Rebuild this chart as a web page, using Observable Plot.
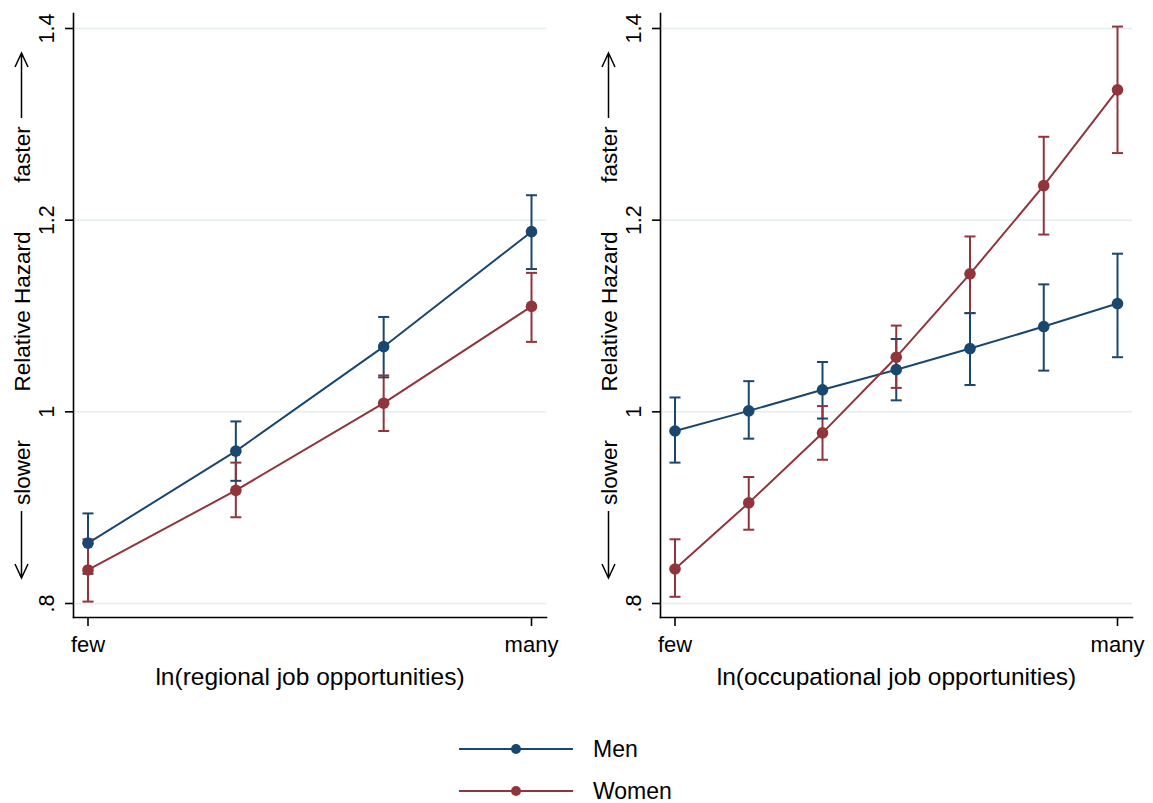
<!DOCTYPE html>
<html><head><meta charset="utf-8">
<script src="https://cdn.jsdelivr.net/npm/d3@7"></script>
<script src="https://cdn.jsdelivr.net/npm/@observablehq/plot@0.6"></script>
<style>
body{margin:0;background:#fff;font-family:"Liberation Sans",Arial,sans-serif;}
#wrap{width:1153px;height:803px;position:relative;overflow:hidden;background:#fff;}
#panels{display:flex;}
#legend{position:absolute;left:459px;top:728px;}
.row{display:flex;align-items:center;height:42px;}
.row span{font-size:23px;margin-left:20px;color:#000;}
</style></head><body><div id="wrap"><div id="panels"></div><div id="legend"></div></div>
<script>
const seriesNames = ["Men", "Women"];
const seriesColors = ["#1a476f", "#90353b"];
const yTicks = [0.8, 1, 1.2, 1.4];
const xTickLabels = ["few", "many"];
const yTitle = "Relative Hazard";
const upLabel = "faster";
const downLabel = "slower";

// Left panel: regional job opportunities
const regionalLevels = [1, 2, 3, 4];
const menRegional   = [0.863, 0.959, 1.068, 1.188];
const menRegionalLo = [0.831, 0.928, 1.036, 1.149];
const menRegionalHi = [0.894, 0.990, 1.099, 1.226];
const womenRegional   = [0.835, 0.918, 1.009, 1.110];
const womenRegionalLo = [0.802, 0.890, 0.980, 1.073];
const womenRegionalHi = [0.867, 0.947, 1.038, 1.145];

// Right panel: occupational job opportunities
const occupationalLevels = [1, 2, 3, 4, 5, 6, 7];
const menOccupational   = [0.980, 1.001, 1.023, 1.044, 1.066, 1.089, 1.113];
const menOccupationalLo = [0.947, 0.972, 0.993, 1.012, 1.028, 1.043, 1.057];
const menOccupationalHi = [1.015, 1.032, 1.052, 1.076, 1.103, 1.133, 1.165];
const womenOccupational   = [0.836, 0.905, 0.978, 1.057, 1.144, 1.236, 1.336];
const womenOccupationalLo = [0.807, 0.877, 0.950, 1.025, 1.103, 1.185, 1.270];
const womenOccupationalHi = [0.867, 0.932, 1.006, 1.090, 1.183, 1.287, 1.402];

const capSymbol = {
  draw(ctx, size) {
    const w = Math.sqrt(size / Math.PI);
    ctx.moveTo(-w, 0);
    ctx.lineTo(w, 0);
  }
};

// decorative direction arrows beside the y-axis title (render-function mark)
function directionArrow(dir) {
  return (index, scales, values, dims) => {
    const x = dims.marginLeft - 51.5;
    const cy = (dims.marginTop + dims.height - dims.marginBottom) / 2;
    const tip = dir > 0 ? cy - 262 : cy + 263;
    const tail = dir > 0 ? cy - 197 : cy + 196;
    const s = dir > 0 ? 1 : -1;
    const g = d3.create("svg:g");
    g.append("path")
      .attr("d", `M${x},${tail}L${x},${tip}M${x - 6.5},${tip + 14 * s}L${x},${tip}L${x + 6.5},${tip + 14 * s}`)
      .attr("fill", "none").attr("stroke", "#000").attr("stroke-width", 1.5);
    return g.node();
  };
}

function panel(o) {
  const rows = [];
  o.levels.forEach((l, i) => {
    rows.push({level: l, series: "Men", value: o.men[i], lo: o.menLo[i], hi: o.menHi[i]});
  });
  o.levels.forEach((l, i) => {
    rows.push({level: l, series: "Women", value: o.women[i], lo: o.womenLo[i], hi: o.womenHi[i]});
  });
  const first = o.levels[0], last = o.levels[o.levels.length - 1];
  const yText = (txt, dy) => Plot.text([txt], {
    text: d => d, frameAnchor: "left", rotate: -90, dx: -51, dy,
    fontSize: 22.5, textAnchor: "middle", lineAnchor: "middle", fill: "#000"
  });
  return Plot.plot({
    width: o.width, height: 700,
    marginTop: 13, marginBottom: 83, marginLeft: o.marginLeft, marginRight: o.marginRight,
    style: {fontFamily: "Liberation Sans, Arial, sans-serif", fontSize: "21px", color: "#000", background: "#fff", overflow: "visible"},
    x: {domain: [first, last], insetLeft: 14.5, insetRight: 15},
    y: {domain: [0.8, 1.4], insetTop: 15, insetBottom: 14},
    color: {domain: seriesNames, range: seriesColors},
    marks: [
      Plot.ruleY(yTicks, {stroke: "#e5edf0", strokeWidth: 1.5}),
      Plot.frame({anchor: "left", stroke: "#000", strokeWidth: 1.6}),
      Plot.frame({anchor: "bottom", stroke: "#000", strokeWidth: 1.6}),
      Plot.axisY({ticks: yTicks, tickSize: 8, tickRotate: -90, tickPadding: 12, strokeWidth: 1.6, fontSize: 21.5,
        tickFormat: d => String(d).replace(/^0/, ""), label: null}),
      Plot.axisX({ticks: [first, last], tickSize: 9, tickPadding: 10, strokeWidth: 1.6, fontSize: 22,
        tickFormat: d => xTickLabels[d === first ? 0 : 1], label: null}),
      Plot.text([o.title], {text: d => d, frameAnchor: "bottom", dy: 67, lineAnchor: "bottom", fontSize: 24.5, fill: "#000"}),
      directionArrow(1),
      yText(upLabel, -161),
      yText(yTitle, -4),
      yText(downLabel, 157),
      directionArrow(-1),
      Plot.ruleX(rows, {x: "level", y1: "lo", y2: "hi", stroke: "series", strokeWidth: 2}),
      Plot.dot(rows, {x: "level", y: "lo", stroke: "series", symbol: capSymbol, r: 5.5, strokeWidth: 2}),
      Plot.dot(rows, {x: "level", y: "hi", stroke: "series", symbol: capSymbol, r: 5.5, strokeWidth: 2}),
      Plot.line(rows, {x: "level", y: "value", z: "series", stroke: "series", strokeWidth: 2}),
      Plot.dot(rows, {x: "level", y: "value", fill: "series", r: 5.8, stroke: null})
    ]
  });
}

const panels = document.getElementById("panels");
panels.appendChild(panel({
  levels: regionalLevels, men: menRegional, menLo: menRegionalLo, menHi: menRegionalHi,
  women: womenRegional, womenLo: womenRegionalLo, womenHi: womenRegionalHi,
  title: "ln(regional job opportunities)", width: 576, marginLeft: 73, marginRight: 30
}));
panels.appendChild(panel({
  levels: occupationalLevels, men: menOccupational, menLo: menOccupationalLo, menHi: menOccupationalHi,
  women: womenOccupational, womenLo: womenOccupationalLo, womenHi: womenOccupationalHi,
  title: "ln(occupational job opportunities)", width: 577, marginLeft: 84, marginRight: 21
}));

const legend = d3.select("#legend");
seriesNames.forEach((name, i) => {
  const row = legend.append("div").attr("class", "row");
  const s = row.append("svg").attr("width", 114).attr("height", 14);
  s.append("line").attr("x1", 0).attr("x2", 114).attr("y1", 7).attr("y2", 7)
    .attr("stroke", seriesColors[i]).attr("stroke-width", 2);
  s.append("circle").attr("cx", 57).attr("cy", 7).attr("r", 5).attr("fill", seriesColors[i]);
  row.append("span").text(name);
});
</script></body></html>
